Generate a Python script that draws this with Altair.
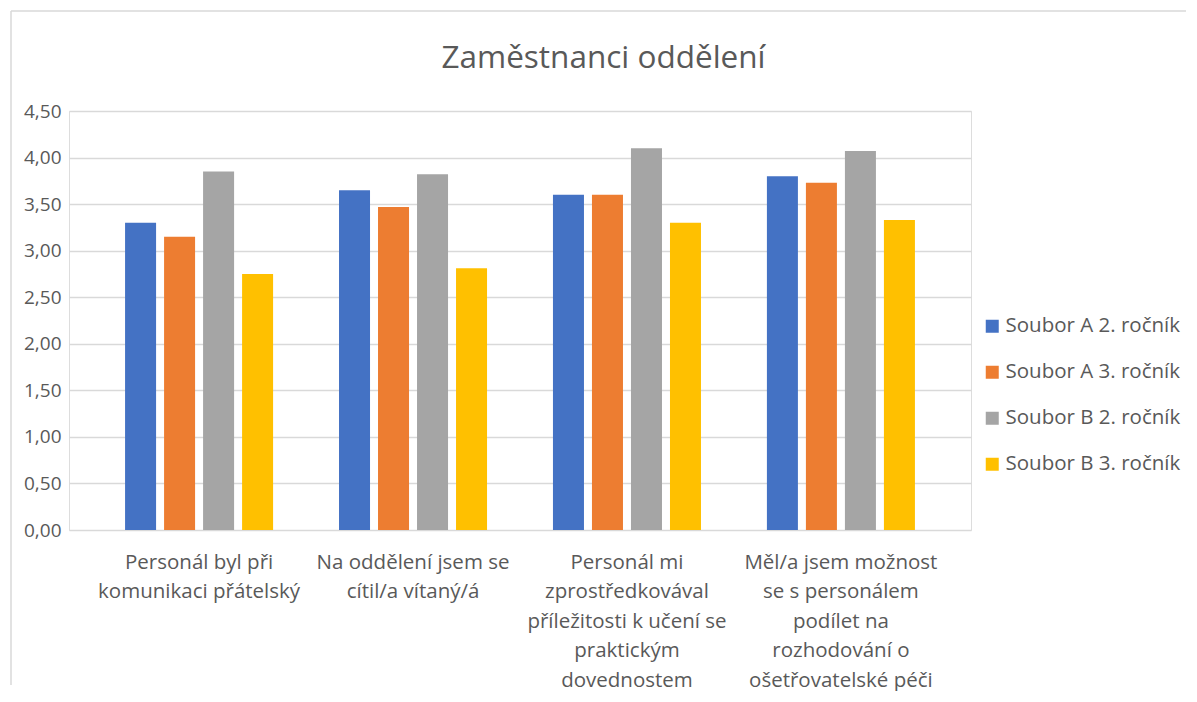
import altair as alt
import pandas as pd

categories = [
    "Personál byl při|komunikaci přátelský",
    "Na oddělení jsem se|cítil/a vítaný/á",
    "Personál mi|zprostředkovával|příležitosti k učení se|praktickým|dovednostem",
    "Měl/a jsem možnost|se s personálem|podílet na|rozhodování o|ošetřovatelské péči",
]
series = ["Soubor A 2. ročník", "Soubor A 3. ročník", "Soubor B 2. ročník", "Soubor B 3. ročník"]
a2 = [3.30, 3.65, 3.60, 3.80]
a3 = [3.15, 3.47, 3.60, 3.73]
b2 = [3.85, 3.82, 4.10, 4.07]
b3 = [2.75, 2.81, 3.30, 3.33]
colors = ["#4472C4", "#ED7D31", "#A5A5A5", "#FFC000"]
title_text = "Zaměstnanci oddělení"
y_ticks = [0, 0.5, 1, 1.5, 2, 2.5, 3, 3.5, 4, 4.5]

rows = []
for s, vals in zip(series, [a2, a3, b2, b3]):
    for c, v in zip(categories, vals):
        rows.append({"kategorie": c, "soubor": s, "hodnota": v})
df = pd.DataFrame(rows)

FONT = "Open Sans"
GREY = "#595959"

bars = alt.Chart(df).mark_bar().encode(
    x=alt.X("kategorie:N", sort=categories, title=None,
            scale=alt.Scale(paddingInner=0, paddingOuter=0.108),
            axis=alt.Axis(labelExpr="split(datum.label, '|')", labelAngle=0,
                          labelFontSize=20.5, labelColor=GREY, labelFont=FONT,
                          labelLineHeight=29.5, labelPadding=22, ticks=False,
                          domain=False, labelLimit=300, labelBaseline="top")),
    xOffset=alt.XOffset("soubor:N", sort=series,
                        scale=alt.Scale(paddingInner=0.205, paddingOuter=0.845)),
    y=alt.Y("hodnota:Q", title=None,
            scale=alt.Scale(domain=[0, 4.5], nice=False),
            axis=alt.Axis(values=y_ticks,
                          labelExpr="replace(format(datum.value, '.2f'), '.', ',')",
                          labelFontSize=19, labelColor=GREY, labelFont=FONT,
                          labelPadding=8, ticks=False, domain=False,
                          gridColor="#d9d9d9", gridWidth=1.5)),
    color=alt.Color("soubor:N", sort=series,
                    scale=alt.Scale(domain=series, range=colors),
                    legend=alt.Legend(title=None, orient="none", legendX=913, legendY=205,
                                      symbolType="square", symbolSize=169,
                                      symbolStrokeWidth=0,
                                      labelFontSize=20.5, labelColor=GREY, labelFont=FONT,
                                      labelOffset=3, rowPadding=25, labelLimit=300)),
)

title = alt.Chart(pd.DataFrame({"t": [title_text]})).mark_text(
    fontSize=31.5, font=FONT, color=GREY, baseline="middle", align="center"
).encode(text="t:N", x=alt.value(534.5), y=alt.value(-52))

frame_top = alt.Chart(pd.DataFrame({"a": [0]})).mark_rule(color="#d9d9d9", strokeWidth=1.5).encode(
    x=alt.value(-58), x2=alt.value(1117), y=alt.value(-100))
frame_left = alt.Chart(pd.DataFrame({"a": [0]})).mark_rule(color="#d9d9d9", strokeWidth=1.5).encode(
    x=alt.value(-58), y=alt.value(-100), y2=alt.value(574))

chart = alt.layer(frame_top, frame_left, bars, title).properties(
    width=902, height=419,
    padding={"left": 2, "top": 2, "right": 0, "bottom": 0},
).configure_view(stroke=None).configure(font=FONT)

chart.save("out.html", embed_options={"renderer": "svg", "actions": False})
